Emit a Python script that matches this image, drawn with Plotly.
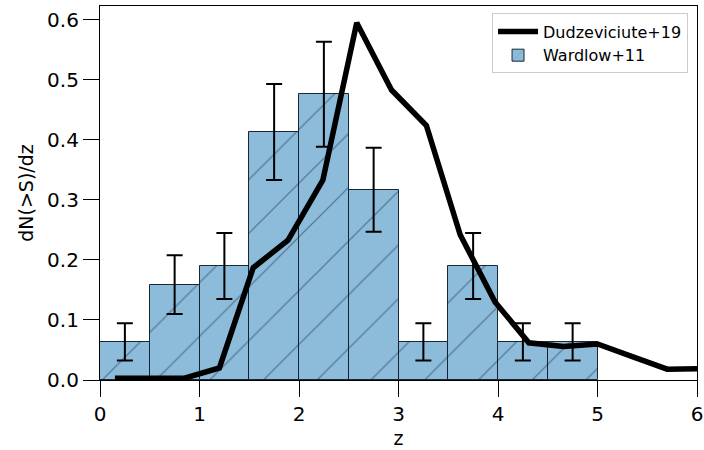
import plotly.graph_objects as go

# Wardlow+11 histogram (bin centres, heights, errors)
bin_centers = [0.25, 0.75, 1.25, 1.75, 2.25, 2.75, 3.25, 3.75, 4.25, 4.75]
bin_heights = [0.0635, 0.159, 0.190, 0.413, 0.476, 0.317, 0.0635, 0.190, 0.0635, 0.0635]
bin_errors = [0.031, 0.049, 0.055, 0.080, 0.0875, 0.070, 0.031, 0.055, 0.031, 0.031]

# Dudzeviciute+19 curve
line_z = [0.15, 0.5, 0.85, 1.2, 1.54, 1.89, 2.24, 2.58, 2.93, 3.28, 3.62, 3.97,
          4.31, 4.66, 5.0, 5.35, 5.7, 6.05]
line_val = [0.003, 0.003, 0.003, 0.02, 0.187, 0.233, 0.333, 0.595, 0.483, 0.424,
            0.242, 0.13, 0.062, 0.056, 0.06, 0.039, 0.018, 0.019]

x_ticks = [0, 1, 2, 3, 4, 5, 6]
y_ticks = [0.0, 0.1, 0.2, 0.3, 0.4, 0.5, 0.6]
y_tick_text = ["0.0", "0.1", "0.2", "0.3", "0.4", "0.5", "0.6"]

FONT = "DejaVu Sans"

fig = go.Figure()
fig.add_trace(go.Bar(
    x=bin_centers, y=bin_heights, width=0.5,
    name="Wardlow+11",
    marker=dict(
        color="rgb(141,187,218)",
        line=dict(color="rgba(15,30,45,0.95)", width=1),
        pattern=dict(shape="/", size=38, solidity=0.032,
                     fgcolor="rgb(15,38,65)", bgcolor="rgb(141,187,218)"),
    ),
    error_y=dict(type="data", array=bin_errors, visible=True,
                 color="black", thickness=2, width=8),
))
fig.add_trace(go.Scatter(
    x=line_z, y=line_val, mode="lines", name="Dudzeviciute+19",
    line=dict(color="black", width=5.5),
))

axis_common = dict(
    showgrid=False, zeroline=False, showline=True, linecolor="black", linewidth=1.2,
    mirror=True, ticks="outside", ticklen=16, tickwidth=1.3, tickcolor="black",
    tickfont=dict(family=FONT, size=20, color="black"), automargin=False,
)

fig.update_layout(
    width=704, height=450,
    margin=dict(l=100, r=7, t=6, b=70, autoexpand=False),
    paper_bgcolor="white", plot_bgcolor="white",
    bargap=0,
    showlegend=True,
    legend=dict(
        x=0.985, y=0.98, xanchor="right", yanchor="top",
        bgcolor="rgba(255,255,255,0.85)", bordercolor="#cccccc", borderwidth=1,
        font=dict(family=FONT, size=16, color="black"),
        traceorder="reversed", itemwidth=40,
    ),
    xaxis=dict(range=[0, 6], tickvals=x_ticks,
               title=dict(text="z", font=dict(family=FONT, size=19, color="black"), standoff=6),
               **axis_common),
    yaxis=dict(range=[0, 0.623], tickvals=y_ticks, ticktext=y_tick_text,
               title=dict(text="dN(>S)/dz", font=dict(family=FONT, size=19, color="black"), standoff=8),
               **axis_common),
)

fig.write_html("out.html")
